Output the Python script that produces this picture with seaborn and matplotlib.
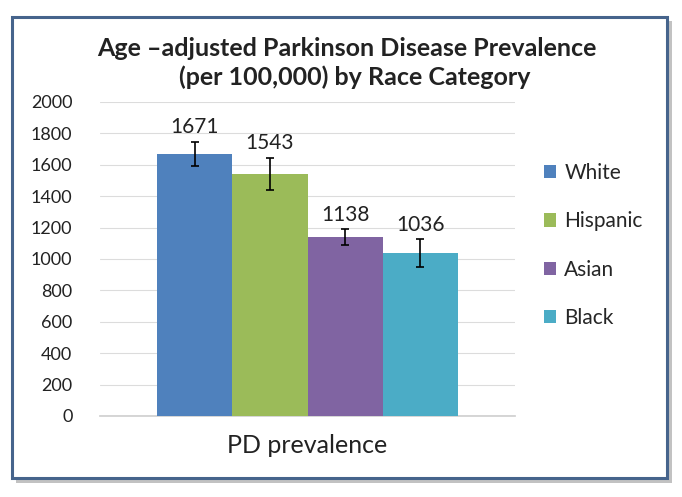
import matplotlib
matplotlib.use("Agg")
import matplotlib.pyplot as plt
import matplotlib.patches as mpatches
import pandas as pd
import seaborn as sns

# data
races = ["White", "Hispanic", "Asian", "Black"]
prevalence = [1671, 1543, 1138, 1036]
err_low = [77, 104, 49, 85]
err_high = [76, 102, 53, 91]
category = "PD prevalence"
colors = ["#4F81BD", "#9BBB59", "#8064A2", "#4BACC6"]
yticks = list(range(0, 2001, 200))

df = pd.DataFrame({"measure": [category] * len(races), "race": races, "value": prevalence})

sns.set_theme(style="white")
plt.rcParams["font.family"] = ["Lato", "DejaVu Sans"]

fig = plt.figure(figsize=(6.82, 4.97), dpi=100)
fig.patch.set_facecolor("white")

# frame with shadow around the whole chart
shadow = mpatches.Rectangle((0.024, 0.028), 0.962, 0.93, transform=fig.transFigure,
                            facecolor="#9A9A9A", edgecolor="none", alpha=0.6, zorder=-2)
frame = mpatches.Rectangle((0.018, 0.038), 0.960, 0.928, transform=fig.transFigure,
                           facecolor="white", edgecolor="#46648C", linewidth=2.2, zorder=-1)
fig.patches.extend([shadow, frame])

ax = fig.add_axes([0.147, 0.163, 0.608, 0.632])
ax.set_zorder(2)
ax.set_facecolor("none")
sns.barplot(data=df, x="measure", y="value", hue="race", palette=colors,
            width=0.725, errorbar=None, saturation=1, linewidth=0, ax=ax, zorder=3)
ax.set_xlim(-0.5, 0.5)

for patch, val, lo, hi in zip(ax.patches, prevalence, err_low, err_high):
    cx = patch.get_x() + patch.get_width() / 2
    ax.errorbar(cx, val, yerr=[[lo], [hi]], fmt="none", ecolor="black",
                elinewidth=1.2, capsize=3, capthick=1.2, zorder=4)
    ax.annotate(f"{val}", (cx, val + hi), xytext=(0, 3), textcoords="offset points",
                ha="center", va="bottom", fontsize=15, color="#222222")

ax.set_ylim(0, 2000)
ax.set_yticks(yticks)
ax.yaxis.grid(True, color="#DCDCDC", linewidth=0.8, zorder=0)
ax.set_axisbelow(True)
for s in ["left", "right", "top"]:
    ax.spines[s].set_visible(False)
ax.spines["bottom"].set_color("#D0D0D0")
ax.tick_params(axis="y", labelsize=13, colors="#222222", length=0, pad=20)
ax.tick_params(axis="x", labelsize=18, colors="#222222", length=0, pad=13)
ax.set_xlabel("")
ax.set_ylabel("")

ax.legend(loc="center left", bbox_to_anchor=(0.797, 0.506), bbox_transform=fig.transFigure,
          frameon=False, fontsize=15, handlelength=0.6, handleheight=0.6,
          handletextpad=0.4, labelspacing=1.36, borderpad=0, borderaxespad=0)

fig.text(0.508, 0.903, "Age \u2013adjusted Parkinson Disease Prevalence",
         ha="center", va="center", fontsize=18, fontweight="bold", color="#222222")
fig.text(0.52, 0.845, "(per 100,000) by Race Category",
         ha="center", va="center", fontsize=18, fontweight="bold", color="#222222")

fig.savefig("out.png", dpi=100)
